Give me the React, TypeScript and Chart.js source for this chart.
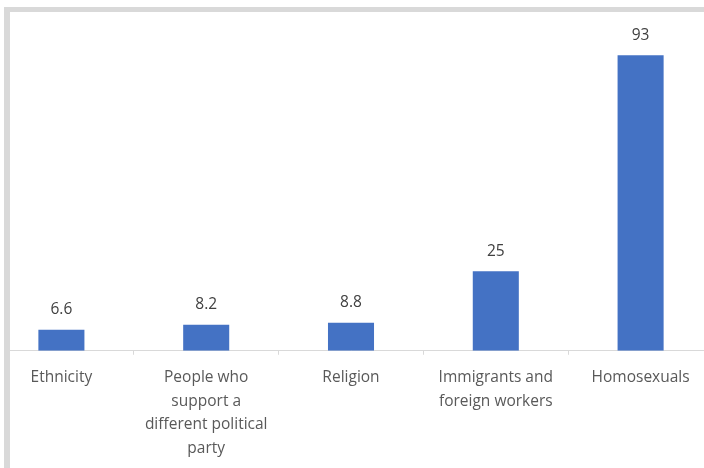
import React, { useEffect, useRef } from "react";
import { Chart, registerables } from "chart.js";

Chart.register(...registerables);

const categories: string[][] = [
  ["Ethnicity"],
  ["People who", "support a", "different political", "party"],
  ["Religion"],
  ["Immigrants and", "foreign workers"],
  ["Homosexuals"],
];
const values: number[] = [6.6, 8.2, 8.8, 25, 93];
const valueLabels: string[] = ["6.6", "8.2", "8.8", "25", "93"];

const dataLabelPlugin = {
  id: "dataLabels",
  afterDatasetsDraw(chart: any) {
    const ctx = chart.ctx;
    const meta = chart.getDatasetMeta(0);
    ctx.save();
    ctx.font = "15.5px 'Open Sans'";
    ctx.fillStyle = "#404040";
    ctx.textAlign = "center";
    ctx.textBaseline = "middle";
    meta.data.forEach((bar: any, i: number) => {
      ctx.fillText(valueLabels[i], bar.x, bar.y - 20);
    });
    ctx.restore();
  },
};

export default function App() {
  const ref = useRef<HTMLCanvasElement>(null);
  useEffect(() => {
    if (!ref.current) return;
    const chart = new Chart(ref.current, {
      type: "bar",
      data: {
        labels: categories,
        datasets: [
          {
            data: values,
            backgroundColor: "#4472C4",
            barPercentage: 0.318,
            categoryPercentage: 1,
          },
        ],
      },
      options: {
        animation: false,
        responsive: false,
        devicePixelRatio: 1,
        layout: { padding: { top: 33, bottom: 0, left: 0, right: 0 } },
        plugins: { legend: { display: false }, tooltip: { enabled: false } },
        scales: {
          y: { display: false, min: 0, max: 100 },
          x: {
            grid: {
              drawOnChartArea: false,
              drawTicks: true,
              tickLength: 4,
              color: "#d9d9d9",
            },
            border: { color: "#d9d9d9", width: 1 },
            ticks: {
              color: "#595959",
              font: { family: "'Open Sans'", size: 15.5, lineHeight: 1.52 },
              padding: 11,
              maxRotation: 0,
              autoSkip: false,
            },
          },
        },
      },
      plugins: [dataLabelPlugin],
    });
    return () => chart.destroy();
  }, []);
  return (
    <div
      style={{
        position: "fixed",
        left: 0,
        top: 0,
        width: 704,
        height: 468,
        background: "#fff",
        overflow: "hidden",
      }}
    >
      <div
        style={{
          position: "absolute",
          left: 10,
          top: 12,
          right: 0,
          bottom: 0,
          overflow: "hidden",
        }}
      >
        <canvas
          ref={ref}
          width={724}
          height={471}
          style={{ position: "absolute", left: -21, top: -12, width: 724, height: 471 }}
        />
      </div>
      <div
        style={{
          position: "absolute",
          left: 4,
          top: 7,
          right: -10,
          bottom: -10,
          borderTop: "5px solid #d9d9d9",
          borderLeft: "6px solid #d9d9d9",
          pointerEvents: "none",
        }}
      />
    </div>
  );
}
